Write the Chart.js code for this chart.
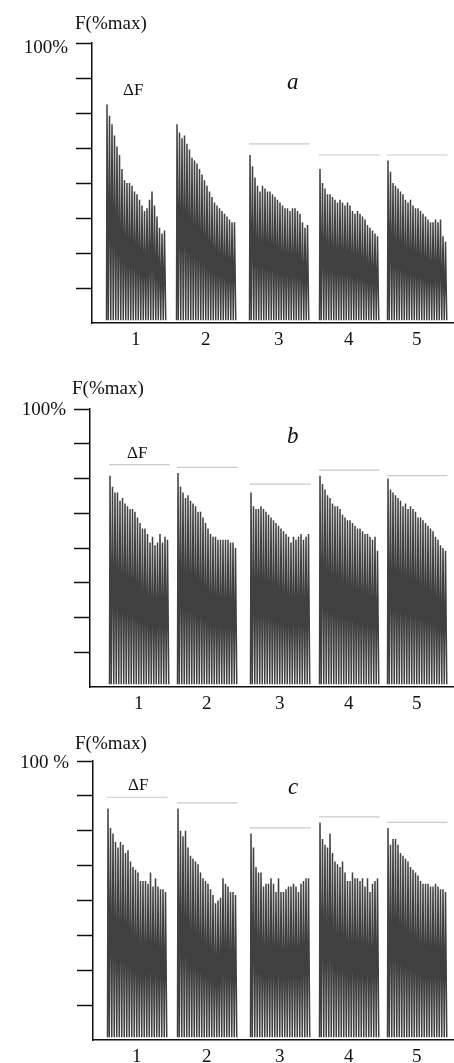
<!DOCTYPE html>
<html>
<head>
<meta charset="utf-8">
<script src="https://cdn.jsdelivr.net/npm/chart.js@4.4.0/dist/chart.umd.min.js"></script>
<style>
  body { margin: 0; background: #fff; width: 454px; height: 1063px; position: relative; overflow: hidden;
         font-family: "Liberation Serif", "DejaVu Serif", serif; color: #111; }
  canvas { position: absolute; left: 0; }
  .lbl { position: absolute; line-height: 1; white-space: nowrap; }
  .ylab { font-size: 19px; }
  .df { font-size: 17px; }
  .pl { font-size: 23px; font-style: italic; }
</style>
</head>
<body>
<canvas id="chartA" width="454" height="353" style="top:0px"></canvas>
<canvas id="chartB" width="454" height="357" style="top:360px"></canvas>
<canvas id="chartC" width="454" height="348" style="top:715px"></canvas>

<div class="lbl ylab" style="left:75px; top:13px">F(%max)</div>
<div class="lbl df" style="left:123px; top:81px">ΔF</div>
<div class="lbl pl" style="left:287px; top:70px">a</div>

<div class="lbl ylab" style="left:72px; top:378px">F(%max)</div>
<div class="lbl df" style="left:127px; top:444px">ΔF</div>
<div class="lbl pl" style="left:287px; top:424px">b</div>

<div class="lbl ylab" style="left:75px; top:733px">F(%max)</div>
<div class="lbl df" style="left:128px; top:776px">ΔF</div>
<div class="lbl pl" style="left:288px; top:775px">c</div>

<script>
// tetanus series 1..5, each burst = 24 stimuli
const burstLabels = ['1', '2', '3', '4', '5'];
const spikeInterval = 0.25; // s
const troughLevel = 1;      // % max between stimuli

// burst onsets (s) and time axis length per panel
const onsetsA = [1.5, 8.5, 15.8, 22.8, 29.6];
const onsetsB = [2.0, 8.8, 16.1, 23.0, 29.8];
const onsetsC = [1.5, 8.5, 15.8, 22.7, 29.5];
const tMaxA = 36.2, tMaxB = 36.4, tMaxC = 36.1;

// peak force of each stimulus (% max) - panel a
const peaksA = [
  [78, 74, 71, 67, 63, 60, 55, 51, 50, 50, 49, 47, 46, 44, 42, 40, 41, 44, 47, 42, 38, 34, 32, 33],
  [71, 68, 66, 67, 64, 62, 59, 58, 57, 55, 53, 51, 49, 47, 45, 43, 42, 41, 40, 39, 38, 37, 36, 36],
  [60, 56, 52, 49, 47, 49, 48, 47, 47, 46, 45, 44, 43, 42, 41, 41, 40, 41, 41, 40, 39, 36, 34, 35],
  [55, 50, 48, 46, 46, 45, 44, 43, 44, 43, 42, 43, 42, 40, 39, 40, 39, 38, 37, 35, 34, 33, 32, 31],
  [58, 54, 50, 49, 48, 47, 46, 44, 43, 44, 42, 41, 41, 40, 39, 38, 37, 36, 36, 37, 36, 37, 31, 29]
];
// panel b
const peaksB = [
  [76, 72, 70, 70, 67, 68, 66, 65, 64, 64, 63, 61, 59, 57, 57, 55, 52, 54, 51, 52, 55, 52, 54, 53],
  [77, 72, 70, 68, 69, 67, 66, 65, 63, 63, 61, 59, 57, 55, 54, 54, 53, 53, 53, 53, 53, 52, 52, 50],
  [70, 65, 64, 64, 65, 64, 63, 62, 61, 60, 59, 58, 57, 56, 55, 54, 52, 54, 53, 54, 55, 53, 54, 55],
  [76, 73, 71, 69, 68, 66, 65, 65, 64, 62, 61, 60, 60, 59, 58, 57, 57, 56, 55, 55, 54, 53, 54, 49],
  [75, 71, 70, 69, 68, 67, 65, 66, 64, 65, 64, 63, 61, 61, 60, 59, 58, 57, 56, 54, 53, 51, 50, 49]
];
// panel c
const peaksC = [
  [83, 76, 74, 71, 69, 71, 70, 67, 68, 64, 62, 61, 60, 57, 57, 57, 56, 60, 55, 58, 55, 54, 54, 53],
  [83, 75, 73, 75, 69, 66, 65, 64, 63, 60, 58, 57, 56, 54, 52, 49, 50, 51, 58, 56, 55, 53, 53, 52],
  [74, 69, 62, 60, 60, 55, 56, 56, 58, 56, 53, 58, 53, 53, 54, 55, 55, 56, 55, 53, 56, 57, 58, 58],
  [78, 72, 70, 69, 74, 67, 64, 63, 62, 64, 60, 57, 57, 60, 58, 58, 57, 58, 55, 58, 53, 56, 57, 58],
  [76, 70, 72, 72, 70, 67, 66, 65, 64, 62, 61, 60, 59, 57, 56, 56, 56, 55, 55, 56, 55, 54, 54, 53]
];

// ΔF reference levels (% max), null = not drawn
const deltaA = [null, null, 64, 60, 60];
const deltaB = [80, 79, 73, 78, 76];
const deltaC = [87, 85, 76, 80, 78];

const yTickStep = 12.5;

function spikeData(onset, peaks) {
  const pts = [{ x: onset - 0.05, y: troughLevel }];
  peaks.forEach((p, j) => {
    const t = onset + j * spikeInterval;
    pts.push({ x: t, y: p });
    pts.push({ x: t + spikeInterval / 2, y: troughLevel });
  });
  return pts;
}

function makePanel(id, p) {
  const datasets = [];
  p.onsets.forEach((o, i) => {
    const n = p.peaks[i].length;
    if (p.delta[i] != null) {
      datasets.push({
        data: [{ x: o - 0.1, y: p.delta[i] }, { x: o + (n - 1) * spikeInterval + 0.2, y: p.delta[i] }],
        borderColor: '#cacaca', borderWidth: 1.2, pointRadius: 0
      });
    }
    datasets.push({
      data: spikeData(o, p.peaks[i]),
      borderColor: 'rgba(30,30,30,0.85)', borderWidth: 1.5, pointRadius: 0, tension: 0
    });
  });

  const font = { family: 'Liberation Serif', size: 19 };
  new Chart(document.getElementById(id), {
    type: 'line',
    data: { datasets },
    options: {
      responsive: false,
      animation: false,
      layout: { padding: { top: p.padTop, right: 0, bottom: 0, left: 0 } },
      plugins: { legend: { display: false }, tooltip: { enabled: false } },
      scales: {
        x: {
          type: 'linear', min: 0, max: p.tMax,
          grid: { display: false, drawTicks: false },
          border: { display: true, color: '#111', width: 1.5 },
          afterBuildTicks: s => { s.ticks = p.onsets.map((o, i) => ({ value: o + (p.peaks[i].length - 1) * spikeInterval / 2 })); },
          afterFit: s => { s.height = p.xAxisH; },
          ticks: { autoSkip: false, maxRotation: 0, padding: 6, color: '#111', font,
                   callback: (v, i) => burstLabels[i] }
        },
        y: {
          min: 0, max: 100,
          afterFit: s => { s.width = p.axisLeft; },
          ticks: { stepSize: yTickStep, autoSkip: false, padding: 8, labelOffset: p.labelOffset,
                   color: '#111', font, callback: v => v === 100 ? p.topLabel : '' },
          grid: { drawOnChartArea: false, drawTicks: true, tickLength: 16, tickWidth: 1.5,
                  tickColor: c => (c.tick && c.tick.value === 0) ? 'rgba(0,0,0,0)' : '#111' },
          border: { display: true, color: '#111', width: 1.5 }
        }
      }
    }
  });
}

makePanel('chartA', { onsets: onsetsA, peaks: peaksA, delta: deltaA, tMax: tMaxA,
  padTop: 43, xAxisH: 30, axisLeft: 92, labelOffset: 5, topLabel: '100%' });
makePanel('chartB', { onsets: onsetsB, peaks: peaksB, delta: deltaB, tMax: tMaxB,
  padTop: 49, xAxisH: 30, axisLeft: 90, labelOffset: 1, topLabel: '100%' });
makePanel('chartC', { onsets: onsetsC, peaks: peaksC, delta: deltaC, tMax: tMaxC,
  padTop: 46, xAxisH: 23, axisLeft: 93, labelOffset: 2, topLabel: '100 %' });
</script>
</body>
</html>
